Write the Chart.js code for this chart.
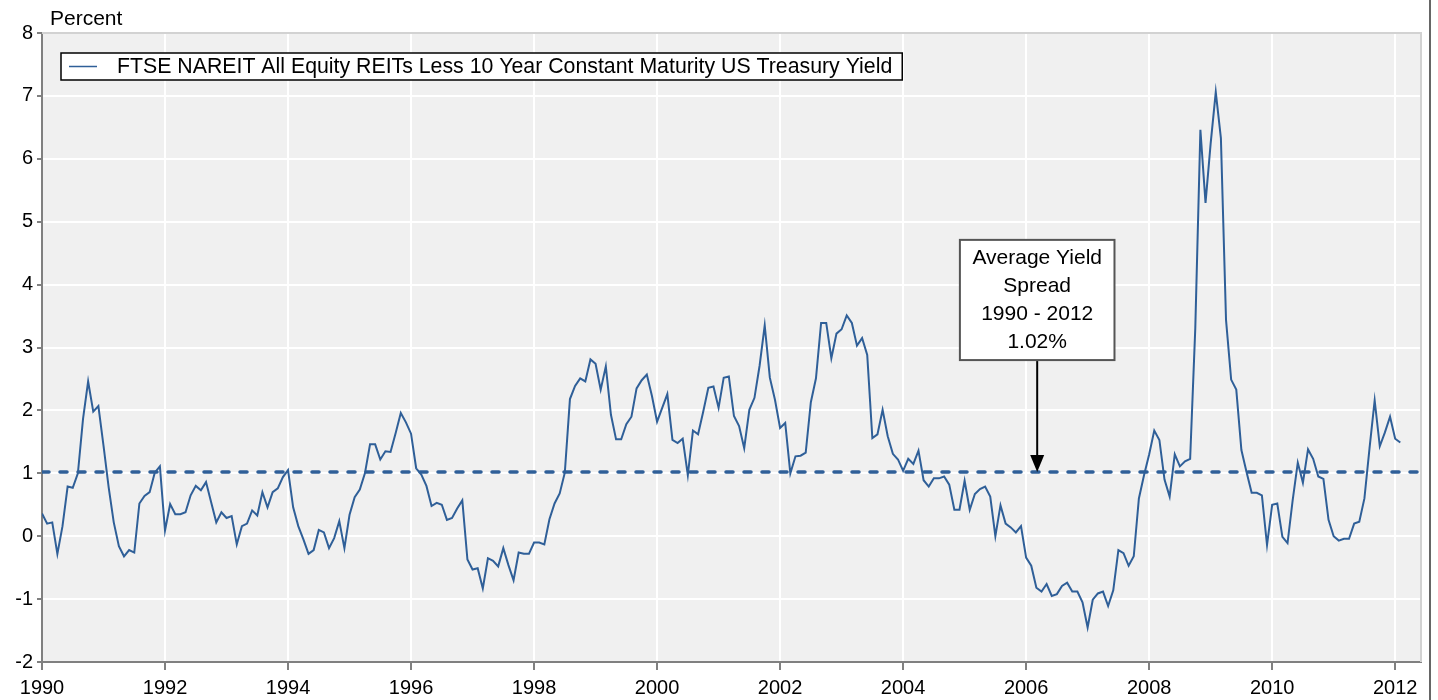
<!DOCTYPE html>
<html>
<head>
<meta charset="utf-8">
<script src="https://cdn.jsdelivr.net/npm/chart.js@4.4.1/dist/chart.umd.min.js"></script>
<style>
html,body{margin:0;padding:0;background:#ffffff;}
#wrap{width:1438px;height:700px;position:relative;}
</style>
</head>
<body>
<div id="wrap"><canvas id="c" width="1438" height="700"></canvas></div>
<script>
// ---------------- data ----------------
const seriesLabel = "FTSE NAREIT All Equity REITs Less 10 Year Constant Maturity US Treasury Yield";
const axisUnitLabel = "Percent";
const startYear = 1990;
const endYear = 2012.42;
const yearTicks = [1990, 1992, 1994, 1996, 1998, 2000, 2002, 2004, 2006, 2008, 2010, 2012];
const valueTicks = [-2, -1, 0, 1, 2, 3, 4, 5, 6, 7, 8];

// monthly spread values (percent), January .. December
const spread1990 = [0.36, 0.20, 0.22, -0.28, 0.16, 0.79, 0.77, 1.00, 1.86, 2.46, 1.98, 2.07];
const spread1991 = [1.44, 0.78, 0.22, -0.16, -0.32, -0.22, -0.26, 0.52, 0.64, 0.70, 1.01, 1.11];
const spread1992 = [0.09, 0.51, 0.35, 0.35, 0.38, 0.65, 0.80, 0.73, 0.86, 0.54, 0.22, 0.38];
const spread1993 = [0.29, 0.32, -0.13, 0.16, 0.20, 0.41, 0.33, 0.70, 0.46, 0.70, 0.76, 0.94];
const spread1994 = [1.05, 0.46, 0.16, -0.05, -0.28, -0.22, 0.10, 0.06, -0.19, -0.03, 0.24, -0.19];
const spread1995 = [0.34, 0.62, 0.74, 1.00, 1.46, 1.46, 1.22, 1.35, 1.34, 1.64, 1.96, 1.81];
const spread1996 = [1.63, 1.08, 0.98, 0.80, 0.48, 0.53, 0.50, 0.26, 0.29, 0.44, 0.57, -0.37];
const spread1997 = [-0.53, -0.51, -0.83, -0.35, -0.39, -0.48, -0.19, -0.46, -0.70, -0.26, -0.28, -0.28];
const spread1998 = [-0.10, -0.10, -0.13, 0.27, 0.52, 0.68, 1.01, 2.18, 2.39, 2.51, 2.46, 2.81];
const spread1999 = [2.74, 2.33, 2.70, 1.93, 1.54, 1.54, 1.78, 1.90, 2.35, 2.48, 2.57, 2.23];
const spread2000 = [1.82, 2.04, 2.26, 1.53, 1.48, 1.55, 0.97, 1.68, 1.62, 1.98, 2.36, 2.38];
const spread2001 = [2.04, 2.52, 2.54, 1.91, 1.75, 1.40, 2.01, 2.20, 2.71, 3.35, 2.52, 2.17];
const spread2002 = [1.72, 1.80, 1.00, 1.27, 1.28, 1.33, 2.13, 2.51, 3.39, 3.39, 2.83, 3.22];
const spread2003 = [3.29, 3.51, 3.39, 3.03, 3.15, 2.88, 1.56, 1.62, 2.01, 1.59, 1.31, 1.22];
const spread2004 = [1.04, 1.23, 1.15, 1.36, 0.89, 0.79, 0.92, 0.92, 0.95, 0.82, 0.42, 0.42];
const spread2005 = [0.88, 0.42, 0.67, 0.75, 0.79, 0.63, 0.00, 0.49, 0.20, 0.14, 0.06, 0.16];
const spread2006 = [-0.34, -0.47, -0.82, -0.88, -0.76, -0.95, -0.92, -0.79, -0.74, -0.88, -0.88, -1.05];
const spread2007 = [-1.45, -1.01, -0.91, -0.88, -1.11, -0.86, -0.22, -0.27, -0.47, -0.32, 0.60, 0.97];
const spread2008 = [1.30, 1.68, 1.53, 0.90, 0.63, 1.30, 1.11, 1.19, 1.23, 3.30, 6.46, 5.30];
const spread2009 = [6.24, 7.06, 6.33, 3.44, 2.49, 2.33, 1.37, 1.02, 0.69, 0.69, 0.65, -0.14];
const spread2010 = [0.50, 0.52, -0.01, -0.11, 0.57, 1.17, 0.85, 1.38, 1.23, 0.95, 0.91, 0.26];
const spread2011 = [0.00, -0.07, -0.04, -0.04, 0.20, 0.23, 0.60, 1.40, 2.16, 1.43, 1.65, 1.90];
const spread2012 = [1.55, 1.49];

const averageSpread = 1.02;
const annotationLines = ["Average Yield", "Spread", "1990 - 2012", "1.02%"];
const annotationYear = 2006.18;      // where the arrow points
const annotationBoxBottom = 2.80;    // value level of the box bottom

// ---------------- build ----------------
const monthlySpread = [].concat(
  spread1990, spread1991, spread1992, spread1993, spread1994, spread1995,
  spread1996, spread1997, spread1998, spread1999, spread2000, spread2001,
  spread2002, spread2003, spread2004, spread2005, spread2006, spread2007,
  spread2008, spread2009, spread2010, spread2011, spread2012
);
const seriesPoints = monthlySpread.map((v, i) => ({ x: startYear + i / 12, y: v }));
const averagePoints = [{ x: startYear, y: averageSpread }, { x: endYear, y: averageSpread }];

const FONT = "'Liberation Sans', Arial, Helvetica, sans-serif";
const BLUE = '#2f5f98';

const decorPlugin = {
  id: 'decor',
  beforeDraw(chart) {
    const { ctx, chartArea: a } = chart;
    ctx.save();
    ctx.fillStyle = '#f0f0f0';
    ctx.fillRect(a.left, a.top, a.right - a.left, a.bottom - a.top);
    ctx.restore();
  },
  afterDraw(chart) {
    const { ctx, chartArea: a, scales } = chart;
    ctx.save();
    // light plot border top / right
    ctx.strokeStyle = '#d2d2d2';
    ctx.lineWidth = 2;
    ctx.beginPath();
    ctx.moveTo(a.left, a.top);
    ctx.lineTo(a.right, a.top);
    ctx.lineTo(a.right, a.bottom);
    ctx.stroke();

    // outer frame line at right
    ctx.strokeStyle = '#333333';
    ctx.lineWidth = 1.5;
    ctx.beginPath();
    ctx.moveTo(chart.width - 8, 0);
    ctx.lineTo(chart.width - 8, chart.height);
    ctx.stroke();

    // unit label
    ctx.fillStyle = '#000';
    ctx.font = '21px ' + FONT;
    ctx.textAlign = 'left';
    ctx.textBaseline = 'alphabetic';
    ctx.fillText(axisUnitLabel, a.left + 8, a.top - 8);

    // legend
    ctx.font = '21.3px ' + FONT;
    const tw = ctx.measureText(seriesLabel).width;
    const lx = a.left + 19, ly = a.top + 20, lh = 27;
    const lw = 56 + tw + 10;
    ctx.fillStyle = '#ffffff';
    ctx.fillRect(lx, ly, lw, lh);
    ctx.strokeStyle = '#000';
    ctx.lineWidth = 1.5;
    ctx.strokeRect(lx, ly, lw, lh);
    ctx.strokeStyle = BLUE;
    ctx.lineWidth = 1.5;
    ctx.beginPath();
    ctx.moveTo(lx + 8, ly + lh / 2);
    ctx.lineTo(lx + 36, ly + lh / 2);
    ctx.stroke();
    ctx.fillStyle = '#000';
    ctx.textBaseline = 'middle';
    ctx.fillText(seriesLabel, lx + 56, ly + lh / 2 + 1);

    // annotation box and arrow
    const xs = scales.x, ys = scales.y;
    const cx = xs.getPixelForValue(annotationYear);
    const tipY = ys.getPixelForValue(averageSpread);
    const boxBottom = ys.getPixelForValue(annotationBoxBottom);
    ctx.font = '21px ' + FONT;
    let maxW = 0;
    annotationLines.forEach(t => { maxW = Math.max(maxW, ctx.measureText(t).width); });
    const bw = maxW + 25, step = 27.8;
    const bh = annotationLines.length * step + 9;
    const bx = cx - bw / 2, by = boxBottom - bh;
    ctx.fillStyle = '#ffffff';
    ctx.fillRect(bx, by, bw, bh);
    ctx.strokeStyle = '#555555';
    ctx.lineWidth = 2;
    ctx.strokeRect(bx, by, bw, bh);
    ctx.fillStyle = '#000';
    ctx.textAlign = 'center';
    ctx.textBaseline = 'middle';
    annotationLines.forEach((t, i) => {
      ctx.fillText(t, cx, by + 18.5 + i * step);
    });
    // arrow
    ctx.strokeStyle = '#000';
    ctx.lineWidth = 2;
    ctx.beginPath();
    ctx.moveTo(cx, boxBottom + 1);
    ctx.lineTo(cx, tipY - 16);
    ctx.stroke();
    ctx.fillStyle = '#000';
    ctx.beginPath();
    ctx.moveTo(cx - 7, tipY - 17);
    ctx.lineTo(cx + 7, tipY - 17);
    ctx.lineTo(cx, tipY);
    ctx.closePath();
    ctx.fill();
    ctx.restore();
  }
};

new Chart(document.getElementById('c'), {
  type: 'line',
  data: {
    datasets: [
      {
        label: seriesLabel,
        data: seriesPoints,
        borderColor: BLUE,
        borderWidth: 2,
        pointRadius: 0,
        tension: 0,
        fill: false
      },
      {
        label: 'Average',
        data: averagePoints,
        borderColor: BLUE,
        borderWidth: 3.5,
        borderDash: [7, 11],
        borderCapStyle: 'round',
        pointRadius: 0,
        fill: false
      }
    ]
  },
  options: {
    responsive: false,
    devicePixelRatio: 1,
    animation: false,
    layout: { padding: { left: 0, top: 33, right: 17, bottom: 0 } },
    plugins: { legend: { display: false }, tooltip: { enabled: false } },
    scales: {
      x: {
        type: 'linear',
        min: startYear,
        max: endYear,
        afterBuildTicks: s => { s.ticks = yearTicks.map(v => ({ value: v })); },
        afterFit: s => { s.height = 38; },
        ticks: {
          autoSkip: false, maxRotation: 0, color: '#000', padding: 6,
          font: { family: FONT, size: 20 },
          callback: v => String(v)
        },
        grid: { color: '#ffffff', lineWidth: 2, tickColor: '#808080', tickLength: 8 },
        border: { display: true, color: '#808080', width: 2 }
      },
      y: {
        min: -2,
        max: 8,
        afterBuildTicks: s => { s.ticks = valueTicks.map(v => ({ value: v })); },
        afterFit: s => { s.width = 42; },
        ticks: {
          color: '#000', padding: 4,
          font: { family: FONT, size: 20 },
          callback: v => String(v)
        },
        grid: { color: '#ffffff', lineWidth: 2, tickColor: '#808080', tickLength: 5 },
        border: { display: true, color: '#808080', width: 2 }
      }
    }
  },
  plugins: [decorPlugin]
});
</script>
</body>
</html>
